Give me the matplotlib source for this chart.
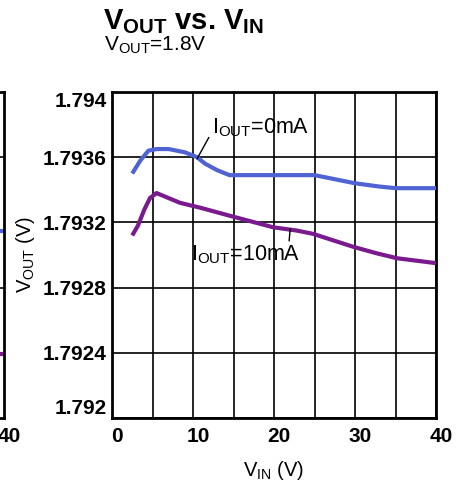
import numpy as np
import matplotlib
matplotlib.use("Agg")
import matplotlib.pyplot as plt
import matplotlib.transforms as mtransforms

plt.rcParams["font.family"] = ["Liberation Sans", "DejaVu Sans"]
plt.rcParams["mathtext.fontset"] = "custom"
plt.rcParams["mathtext.rm"] = "Liberation Sans"
plt.rcParams["mathtext.bf"] = "Liberation Sans:bold"
plt.rcParams["mathtext.it"] = "Liberation Sans"

# data
vin_0ma = [2.5, 3.5, 4.5, 5.5, 7, 9, 10.5, 11.5, 13, 14.5, 20, 25, 27, 30, 33, 35, 40]
vout_0ma = [1.79350, 1.79358, 1.79364, 1.79365, 1.79365, 1.79363, 1.79360, 1.79356,
            1.79352, 1.79349, 1.79349, 1.79349, 1.79347, 1.79344, 1.79342, 1.79341, 1.79341]
vin_10ma = [2.5, 3.2, 4.0, 4.7, 5.5, 8.4, 10.9, 14.6, 19.9, 22.8, 24.8, 29.8, 32.7, 35.2, 40]
vout_10ma = [1.79312, 1.79318, 1.79328, 1.79335, 1.79338, 1.79332, 1.79329, 1.79324,
             1.79317, 1.79315, 1.79313, 1.79305, 1.79301, 1.79298, 1.79295]
xticks = [0, 10, 20, 30, 40]
yticks = [1.792, 1.7924, 1.7928, 1.7932, 1.7936, 1.794]
ytick_labels = ["1.792", "1.7924", "1.7928", "1.7932", "1.7936", "1.794"]

# neighbouring chart, only its right edge is visible
side_x = [38, 40]
side_0ma = [1.79315, 1.79315]
side_10ma = [1.79239, 1.79239]

blue = "#4f63d4"
purple = "#7a1a8e"

W, H = 464, 482
fig = plt.figure(figsize=(W / 100, H / 100), dpi=100)

ax = fig.add_axes([112 / W, 1 - 418 / H, 324 / W, 326 / H])
ax.plot(vin_0ma, vout_0ma, color=blue, lw=3.0, solid_capstyle="butt", zorder=3)
ax.plot(vin_10ma, vout_10ma, color=purple, lw=3.0, solid_capstyle="butt", zorder=3)
ax.set_xlim(0, 40)
ax.set_ylim(1.792, 1.794)
ax.set_xticks(np.arange(0, 41, 5))
ax.set_xticklabels([str(v) if v in xticks else "" for v in range(0, 41, 5)])
ax.set_yticks(yticks)
ax.set_yticklabels(ytick_labels)
ax.grid(True, color="black", lw=1.2)
ax.tick_params(length=0, labelsize=15, pad=4)
for lab in ax.get_xticklabels() + ax.get_yticklabels():
    lab.set_fontweight("bold")
for lab in ax.get_xticklabels():
    lab.set_transform(lab.get_transform() + mtransforms.ScaledTranslation(0.05, -0.03, fig.dpi_scale_trans))
ylabs = ax.get_yticklabels()
ylabs[0].set_va("bottom")
ylabs[-1].set_va("top")
for s in ax.spines.values():
    s.set_linewidth(2)

ax.set_xlabel(r"$\mathrm{V_{IN}}$ (V)", fontsize=14.5, labelpad=10)
ax.set_ylabel(r"$\mathrm{V_{OUT}}$ (V)", fontsize=14.5, labelpad=4)

# curve labels with leader lines
ax.annotate(r"$\mathrm{I_{OUT}}$=0mA", xy=(10.5, 1.79359), xytext=(12.3, 1.79378),
            fontsize=15.5, ha="left", va="center",
            arrowprops=dict(arrowstyle="-", color="black", lw=1, shrinkA=0, shrinkB=0,
                            relpos=(0.0, 0.3)))
ax.annotate(r"$\mathrm{I_{OUT}}$=10mA", xy=(22.0, 1.79316), xytext=(9.7, 1.79300),
            fontsize=15.5, ha="left", va="center",
            arrowprops=dict(arrowstyle="-", color="black", lw=1, shrinkA=0, shrinkB=0,
                            relpos=(0.9, 1.0)))

# sliver of the left chart
ax2 = fig.add_axes([-60 / W, 1 - 418 / H, 64 / W, 326 / H])
ax2.plot(side_x, side_0ma, color=blue, lw=3.0)
ax2.plot(side_x, side_10ma, color=purple, lw=3.0)
ax2.set_xlim(0, 40)
ax2.set_ylim(1.792, 1.794)
ax2.set_xticks([40])
ax2.set_xticklabels(["40"])
ax2.set_yticks([1.7928, 1.7936])
ax2.set_yticklabels([])
ax2.grid(True, axis="y", color="black", lw=1.2)
ax2.tick_params(length=0, labelsize=15, pad=4)
for lab in ax2.get_xticklabels():
    lab.set_fontweight("bold")
    lab.set_transform(lab.get_transform() + mtransforms.ScaledTranslation(0.05, -0.03, fig.dpi_scale_trans))
for s in ax2.spines.values():
    s.set_linewidth(2)

fig.text(103 / W, 1 - 22 / H, r"$\mathbf{V_{OUT}}$ vs. $\mathbf{V_{IN}}$", fontsize=21,
         fontweight="bold", ha="left", va="center")
fig.text(104 / W, 1 - 45 / H, r"$\mathrm{V_{OUT}}$=1.8V", fontsize=15, ha="left", va="center")

fig.savefig("out.png", dpi=100)
